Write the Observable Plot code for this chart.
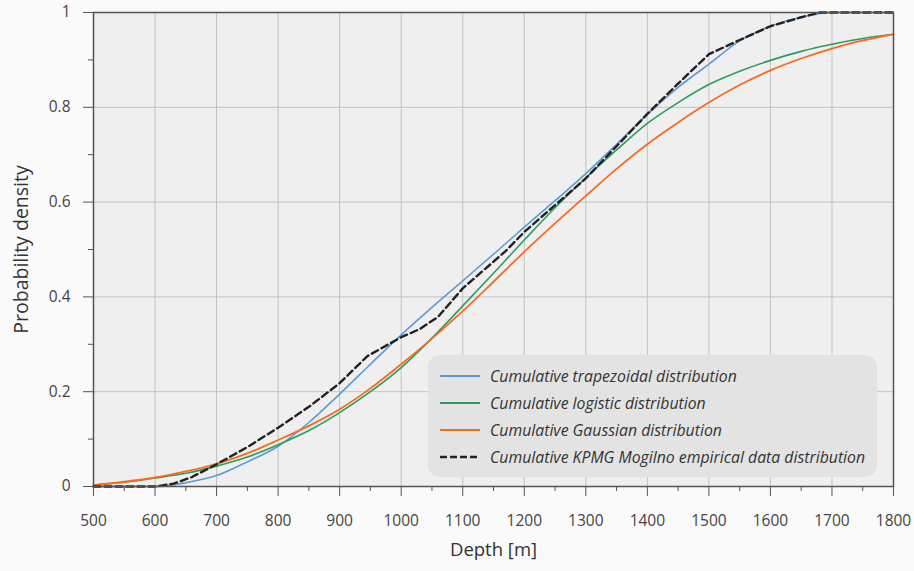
<!DOCTYPE html>
<html><head><meta charset="utf-8">
<script src="https://cdn.jsdelivr.net/npm/d3@7"></script>
<script src="https://cdn.jsdelivr.net/npm/@observablehq/plot@0.6"></script>
<style>
body{margin:0;background:#fafafa;}
#wrap{position:relative;width:914px;height:571px;font-family:"Open Sans",sans-serif;}
#legend{position:absolute;left:428px;top:355px;width:449px;height:122px;background:#e3e3e3;border-radius:12px;}
.row{position:absolute;left:12px;height:22px;display:flex;align-items:center;font-style:italic;font-size:15.8px;color:#333;white-space:nowrap;}
.row svg{margin-right:10px;display:block}
</style></head><body><div id="wrap"></div>
<script>
// ---- data ----
const smoothDepth = [500,550,600,650,700,750,800,850,900,950,1000,1050,1100,1150,1200,1250,1300,1350,1400,1450,1500,1550,1600,1650,1700,1750,1800];
const logisticCdf = [0.003,0.009,0.018,0.028,0.043,0.062,0.088,0.118,0.156,0.200,0.251,0.313,0.381,0.450,0.520,0.588,0.651,0.710,0.766,0.810,0.848,0.876,0.899,0.918,0.933,0.945,0.954];
const gaussianCdf = [0.003,0.010,0.019,0.032,0.048,0.070,0.098,0.128,0.163,0.207,0.258,0.312,0.370,0.432,0.495,0.555,0.613,0.670,0.722,0.768,0.810,0.847,0.878,0.903,0.924,0.941,0.954];
const trapezoidalCdf = [0,0,0,0.008,0.023,0.052,0.085,0.135,0.195,0.258,0.320,0.378,0.434,0.490,0.547,0.603,0.660,0.722,0.785,0.842,0.891,0.940,0.971,0.990,1.0,1.0,1.0];
const empiricalDepth = [500,600,630,660,700,750,800,850,900,945,1000,1030,1060,1100,1170,1200,1300,1400,1450,1500,1550,1600,1650,1680,1800];
const empiricalCdf   = [0,0,0.006,0.020,0.047,0.083,0.124,0.168,0.218,0.275,0.315,0.332,0.358,0.418,0.497,0.537,0.650,0.786,0.850,0.912,0.942,0.971,0.990,1.0,1.0];
const xMajorTicks = [500,600,700,800,900,1000,1100,1200,1300,1400,1500,1600,1700,1800];
const xMinorTicks = [550,650,750,850,950,1050,1150,1250,1350,1450,1550,1650,1750];
const yMajorTicks = [0,0.2,0.4,0.6,0.8,1];
const yMinorTicks = [0.1,0.3,0.5,0.7,0.9];
const xGrid = [600,700,800,900,1000,1100,1200,1300,1400,1500,1600,1700];
const yGrid = [0.2,0.4,0.6,0.8];
const seriesNames = ["Cumulative trapezoidal distribution","Cumulative logistic distribution","Cumulative Gaussian distribution","Cumulative KPMG Mogilno empirical data distribution"];
const seriesColors = ["#5b9bd5","#2e9b5e","#fb6a1c","#222222"];

const toRows = (xs, ys) => xs.map((x,i)=>({x, y: ys[i]}));

const chart = Plot.plot({
  width: 914, height: 571,
  marginLeft: 93, marginRight: 21, marginTop: 12, marginBottom: 85,
  x: {domain: [500,1800], label: null},
  y: {domain: [0,1], label: null},
  style: {background: "transparent", color: "#444", fontFamily: "'Open Sans', sans-serif"},
  marks: [
    Plot.frame({fill: "#efefef"}),
    Plot.ruleX(xGrid, {stroke: "#c2c2c2", strokeWidth: 1}),
    Plot.ruleY(yGrid, {stroke: "#c2c2c2", strokeWidth: 1}),
    Plot.line(toRows(smoothDepth, trapezoidalCdf), {x:"x", y:"y", stroke: seriesColors[0], strokeWidth: 1.6, curve: "monotone-x"}),
    Plot.line(toRows(smoothDepth, logisticCdf), {x:"x", y:"y", stroke: seriesColors[1], strokeWidth: 1.6, curve: "monotone-x"}),
    Plot.line(toRows(smoothDepth, gaussianCdf), {x:"x", y:"y", stroke: seriesColors[2], strokeWidth: 1.8, curve: "monotone-x"}),
    Plot.line(toRows(empiricalDepth, empiricalCdf), {x:"x", y:"y", stroke: seriesColors[3], strokeWidth: 2.4, strokeDasharray: "7,4"}),
    Plot.frame({stroke: "#555", strokeWidth: 1.5}),
    Plot.axisX(xMajorTicks, {tickSize: 10, tickPadding: 18, fontSize: 15.5, label: null, tickFormat: d => String(d), stroke: "#555", fill: "#444"}),
    Plot.axisX(xMinorTicks, {tickSize: 5, tickFormat: () => "", label: null, stroke: "#555"}),
    Plot.axisY(yMajorTicks, {tickSize: 10, tickPadding: 13, fontSize: 15.5, label: null, tickFormat: d => String(d), stroke: "#555", fill: "#444"}),
    Plot.axisY(yMinorTicks, {tickSize: 5, tickFormat: () => "", label: null, stroke: "#555"}),
    Plot.text(["Probability density"], {text: d => d, frameAnchor: "left", textAnchor: "middle", dx: -72, rotate: -90, fontSize: 19.5, fill: "#333"}),
    Plot.text(["Depth [m]"], {text: d => d, frameAnchor: "bottom", dy: 69, fontSize: 18.5, fill: "#333"})
  ]
});
const wrap = document.getElementById("wrap");
wrap.appendChild(chart);

// legend
const legend = document.createElement("div");
legend.id = "legend";
const rowTops = [10, 37, 64, 91];
seriesNames.forEach((name, i) => {
  const row = document.createElement("div");
  row.className = "row";
  row.style.top = rowTops[i] + "px";
  const dash = i === 3 ? ' stroke-dasharray="7,3"' : '';
  const sw = i === 3 ? 2.4 : 1.8;
  row.innerHTML = `<svg width="40" height="6"><line x1="0" y1="3" x2="40" y2="3" stroke="${seriesColors[i]}" stroke-width="${sw}"${dash}/></svg><span>${name}</span>`;
  legend.appendChild(row);
});
wrap.appendChild(legend);
</script>
</body></html>
